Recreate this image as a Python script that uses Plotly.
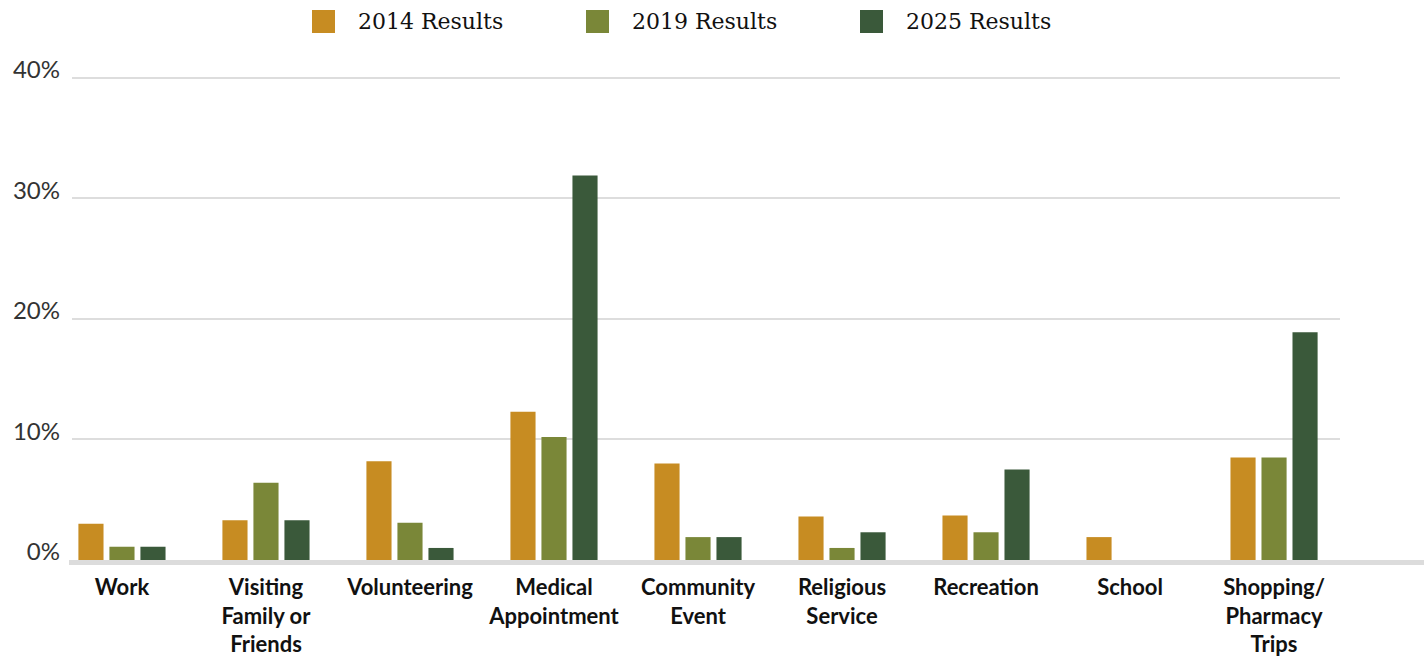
import plotly.graph_objects as go

categories = ["Work", "Visiting<br>Family or<br>Friends", "Volunteering", "Medical<br>Appointment",
              "Community<br>Event", "Religious<br>Service", "Recreation", "School",
              "Shopping/<br>Pharmacy<br>Trips"]
series_names = ["2014 Results", "2019 Results", "2025 Results"]
values_2014 = [3.0, 3.3, 8.2, 12.3, 8.0, 3.6, 3.7, 1.9, 8.5]
values_2019 = [1.1, 6.4, 3.1, 10.2, 1.9, 1.0, 2.3, 0.0, 8.5]
values_2025 = [1.1, 3.3, 1.0, 31.9, 1.9, 2.3, 7.5, 0.0, 18.9]
colors = ["#C78C22", "#7A8738", "#3A593A"]
y_ticks = [0, 10, 20, 30, 40]
y_max = 40.4

W, H = 1424, 656
L, R, B = 72, 84, 96
px_per_unit = 482 / 40
T = round(H - B - y_max * px_per_unit)
pw, ph = W - L - R, H - T - B

def px_x(x):
    return (x - L) / pw

def px_y(y):
    return (H - B - y) / ph

xs = list(range(len(categories)))
fig = go.Figure()
for name, vals, col in zip(series_names, [values_2014, values_2019, values_2025], colors):
    fig.add_trace(go.Bar(x=xs, y=vals, name=name, marker=dict(color=col, line=dict(width=0)),
                         showlegend=False))

# manual legend
shapes = []
annotations = []
for i, (name, col) in enumerate(zip(series_names, colors)):
    sx = 312 + 274 * i
    shapes.append(dict(type="rect", xref="paper", yref="paper",
                       x0=px_x(sx), x1=px_x(sx + 23), y0=px_y(33), y1=px_y(10),
                       fillcolor=col, line=dict(width=0)))
    annotations.append(dict(xref="paper", yref="paper", x=px_x(sx + 44), y=px_y(22),
                            text=name, showarrow=False, xanchor="left", yanchor="middle",
                            font=dict(family="DejaVu Serif", size=22, color="#111111")))

# baseline band
shapes.append(dict(type="rect", xref="paper", yref="paper",
                   x0=px_x(69), x1=px_x(1424), y0=px_y(565), y1=px_y(560),
                   fillcolor="#DCDCDC", line=dict(width=0), layer="above"))

fig.update_layout(
    width=W, height=H,
    margin=dict(l=L, r=R, t=T, b=B, autoexpand=False),
    paper_bgcolor="white", plot_bgcolor="white",
    barmode="group", bargap=0.354, bargroupgap=0.19,
    shapes=shapes, annotations=annotations,
    xaxis=dict(range=[-0.347, 8.458], tickmode="array", tickvals=xs, ticktext=categories,
               showgrid=False, zeroline=False, showline=False, ticks="",
               tickfont=dict(family="Lato", size=22, color="#111111", weight="bold"),
               ticklabelstandoff=12),
    yaxis=dict(range=[0, y_max], tickmode="array", tickvals=y_ticks,
               ticktext=[f"{v}%" for v in y_ticks],
               showgrid=True, gridcolor="#DDDDDD", gridwidth=2, zeroline=False,
               showline=False, ticks="", ticklabelshift=-8, ticklabelstandoff=11,
               tickfont=dict(family="Lato", size=24, color="#333333")),
)

fig.write_html("out.html")
